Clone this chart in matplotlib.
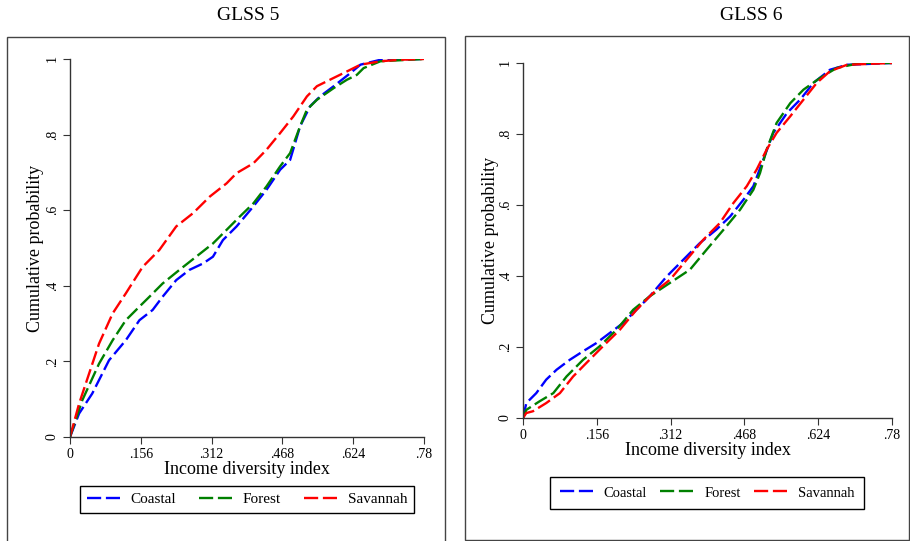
import matplotlib.pyplot as plt
from matplotlib.patches import Rectangle

plt.rcParams['font.family'] = ['Liberation Serif', 'DejaVu Serif']

# GLSS 5 : income diversity index vs cumulative probability
g5_coastal_x = [0, 0.020, 0.049, 0.086, 0.123, 0.153, 0.182, 0.204, 0.234, 0.263, 0.293, 0.315,
                0.337, 0.367, 0.404, 0.433, 0.463, 0.485, 0.507, 0.529, 0.551, 0.581, 0.618,
                0.640, 0.684, 0.78]
g5_coastal_y = [0, 0.062, 0.115, 0.203, 0.256, 0.309, 0.336, 0.371, 0.415, 0.442, 0.459, 0.477,
                0.521, 0.557, 0.610, 0.654, 0.707, 0.733, 0.822, 0.875, 0.901, 0.928, 0.963,
                0.985, 0.998, 1.0]
g5_forest_x = [0, 0.027, 0.064, 0.094, 0.123, 0.153, 0.175, 0.204, 0.241, 0.278, 0.315, 0.345,
               0.374, 0.404, 0.433, 0.463, 0.485, 0.507, 0.522, 0.544, 0.581, 0.610, 0.632,
               0.647, 0.684, 0.78]
g5_forest_y = [0, 0.097, 0.194, 0.256, 0.309, 0.345, 0.371, 0.406, 0.442, 0.477, 0.512, 0.548,
               0.583, 0.618, 0.663, 0.716, 0.751, 0.822, 0.866, 0.892, 0.923, 0.945, 0.958,
               0.976, 0.994, 1.0]
g5_savannah_x = [0, 0.020, 0.064, 0.094, 0.123, 0.160, 0.197, 0.234, 0.271, 0.308, 0.345, 0.367,
                 0.404, 0.433, 0.463, 0.492, 0.522, 0.544, 0.581, 0.610, 0.640, 0.684, 0.728, 0.78]
g5_savannah_y = [0, 0.088, 0.247, 0.327, 0.380, 0.450, 0.495, 0.557, 0.592, 0.636, 0.671, 0.698,
                 0.724, 0.760, 0.804, 0.848, 0.901, 0.928, 0.950, 0.967, 0.985, 0.994, 0.998, 1.0]

# GLSS 6
g6_coastal_x = [0, 0.007, 0.028, 0.049, 0.071, 0.099, 0.127, 0.155, 0.183, 0.212, 0.240, 0.268,
                0.304, 0.339, 0.374, 0.409, 0.438, 0.466, 0.487, 0.508, 0.529, 0.558, 0.586,
                0.614, 0.649, 0.685, 0.78]
g6_coastal_y = [0, 0.042, 0.070, 0.108, 0.136, 0.164, 0.188, 0.211, 0.239, 0.268, 0.305, 0.343,
                0.399, 0.446, 0.493, 0.531, 0.568, 0.615, 0.653, 0.728, 0.803, 0.859, 0.897,
                0.944, 0.981, 0.995, 1.0]
g6_forest_x = [0, 0.007, 0.035, 0.064, 0.092, 0.127, 0.162, 0.198, 0.233, 0.268, 0.310, 0.353,
               0.388, 0.430, 0.459, 0.487, 0.501, 0.515, 0.536, 0.565, 0.593, 0.628, 0.663,
               0.713, 0.78]
g6_forest_y = [0, 0.023, 0.047, 0.070, 0.117, 0.164, 0.202, 0.249, 0.305, 0.343, 0.380, 0.418,
               0.474, 0.540, 0.587, 0.643, 0.690, 0.756, 0.831, 0.887, 0.925, 0.958, 0.986,
               1.0, 1.0]
g6_savannah_x = [0, 0.007, 0.021, 0.049, 0.078, 0.106, 0.134, 0.169, 0.205, 0.240, 0.275, 0.311,
                 0.346, 0.381, 0.416, 0.445, 0.473, 0.494, 0.515, 0.536, 0.565, 0.593, 0.621,
                 0.649, 0.685, 0.78]
g6_savannah_y = [0, 0.014, 0.019, 0.042, 0.070, 0.117, 0.155, 0.202, 0.249, 0.305, 0.352, 0.390,
                 0.446, 0.502, 0.549, 0.606, 0.653, 0.700, 0.756, 0.803, 0.850, 0.897, 0.944,
                 0.977, 0.995, 1.0]

x_ticks = [0, 0.156, 0.312, 0.468, 0.624, 0.78]
x_labels = ['0', '.156', '.312', '.468', '.624', '.78']
y_ticks = [0, 0.2, 0.4, 0.6, 0.8, 1.0]
y_labels = ['0', '.2', '.4', '.6', '.8', '1']
names = ['Coastal', 'Forest', 'Savannah']
colors = ['#0000ff', '#008000', '#ff0000']

W, H = 910, 541
fig = plt.figure(figsize=(W / 100, H / 100), dpi=100)

# outer panel frames (pixel coords converted to figure fractions)
for (x0, y0, x1, y1) in [(7, 37, 445, 545), (465, 36, 909, 540)]:
    fig.patches.append(Rectangle((x0 / W, 1 - y1 / H), (x1 - x0) / W, (y1 - y0) / H,
                                 transform=fig.transFigure, fill=False,
                                 edgecolor='#444444', linewidth=1.0))

# title, axes box, title pos, series, legend centre, legend font/handle/pad/colspace/borderpad, ylabel pad
panels = [
    ('GLSS 5', (70, 59, 424, 437), (248, 16),
     [(g5_coastal_x, g5_coastal_y), (g5_forest_x, g5_forest_y), (g5_savannah_x, g5_savannah_y)],
     (247, 499.5), (11, 2.16, 0.7, 1.5, 0.45), 1),
    ('GLSS 6', (523, 63, 892, 418), (751, 16),
     [(g6_coastal_x, g6_coastal_y), (g6_forest_x, g6_forest_y), (g6_savannah_x, g6_savannah_y)],
     (707, 493), (10.5, 2.27, 0.75, 0.9, 0.65), 0),
]

for title, (px0, py0, px1, py1), (tx, ty), series, (lcx, lcy), lstyle, ypad in panels:
    ax = fig.add_axes([px0 / W, 1 - py1 / H, (px1 - px0) / W, (py1 - py0) / H])
    for (xs, ys), c, n in zip(series, colors, names):
        ax.plot(xs, ys, color=c, lw=1.7, dashes=(6, 2), label=n)
    ax.set_xlim(0, 0.78)
    ax.set_ylim(0, 1)
    ax.set_xticks(x_ticks)
    ax.set_xticklabels(x_labels, fontsize=10)
    ax.set_yticks(y_ticks)
    ax.set_yticklabels(y_labels, fontsize=10, rotation=90, va='center')
    ax.spines['top'].set_visible(False)
    ax.spines['right'].set_visible(False)
    for s in ['left', 'bottom']:
        ax.spines[s].set_color('#333333')
        ax.spines[s].set_linewidth(1.0)
    ax.tick_params(length=5, color='#333333', pad=3)
    ax.set_xlabel('Income diversity index', fontsize=13, labelpad=0)
    ax.set_ylabel('Cumulative probability', fontsize=13, labelpad=ypad)
    fig.text(tx / W, 1 - ty / H, title, fontsize=14, ha='center', va='center')
    fs, hl, htp, cs, bp = lstyle
    ax.legend(loc='center', ncol=3, frameon=True, fancybox=False, framealpha=1,
              edgecolor='black', fontsize=fs, handlelength=hl, handletextpad=htp,
              columnspacing=cs, borderpad=bp,
              bbox_to_anchor=(lcx / W, 1 - lcy / H), bbox_transform=fig.transFigure)

plt.savefig('out.png', dpi=100)
